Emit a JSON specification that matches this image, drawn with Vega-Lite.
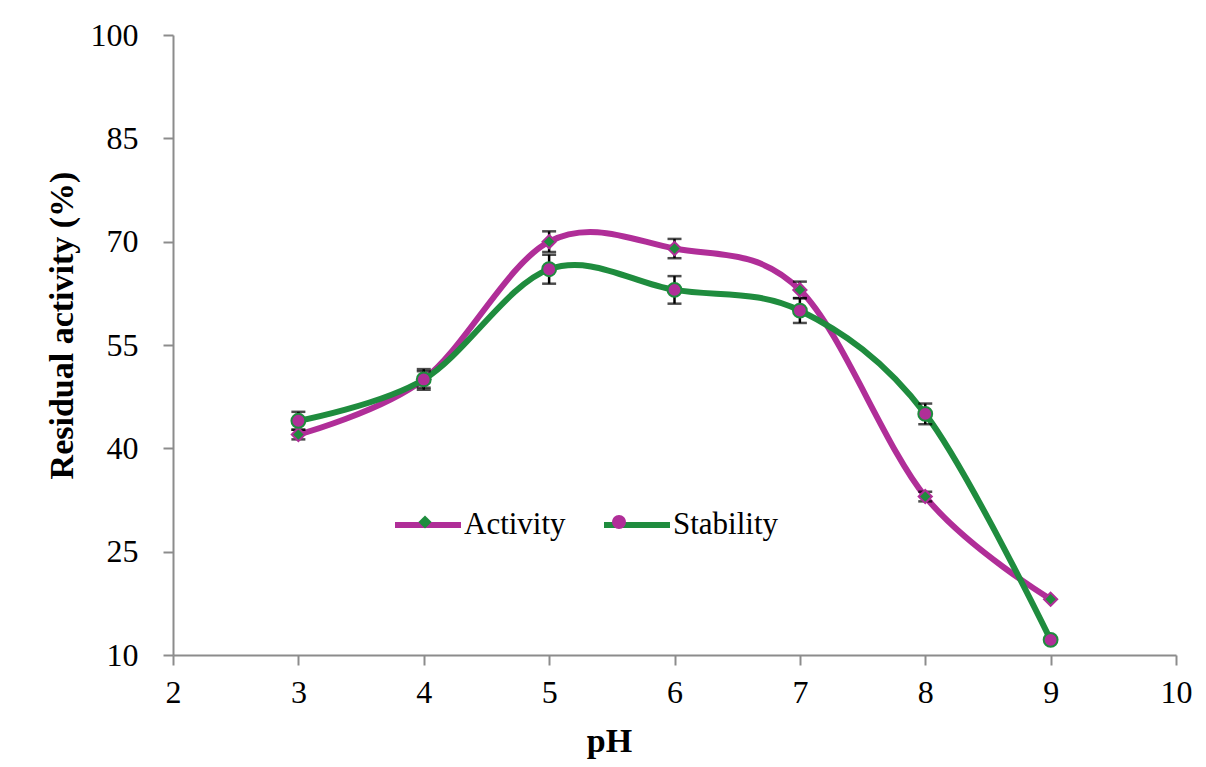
{
  "$schema": "https://vega.github.io/schema/vega-lite/v6.json",
  "width": 1003,
  "height": 620,
  "autosize": "none",
  "padding": {"left": 173, "top": 35, "right": 30, "bottom": 112},
  "background": "white",
  "config": {
    "view": {"stroke": null},
    "font": "Liberation Serif",
    "axis": {
      "domainColor": "#8c8c8c",
      "domainWidth": 2,
      "tickColor": "#8c8c8c",
      "tickWidth": 2,
      "tickSize": 10,
      "grid": false,
      "labelFlush": false,
      "labelFont": "Liberation Serif",
      "labelFontSize": 32,
      "labelColor": "black",
      "titleFont": "Liberation Serif",
      "titleFontWeight": "bold",
      "titleColor": "black"
    }
  },
  "data": {
    "values": [
      {"pH": 3, "series": "Activity", "value": 42, "err": 0.7},
      {"pH": 4, "series": "Activity", "value": 50, "err": 1.2},
      {"pH": 5, "series": "Activity", "value": 70, "err": 1.5},
      {"pH": 6, "series": "Activity", "value": 69, "err": 1.4},
      {"pH": 7, "series": "Activity", "value": 63, "err": 1.2},
      {"pH": 8, "series": "Activity", "value": 33, "err": 0.7},
      {"pH": 9, "series": "Activity", "value": 18.1, "err": 0},
      {"pH": 3, "series": "Stability", "value": 44, "err": 1.3},
      {"pH": 4, "series": "Stability", "value": 50, "err": 1.5},
      {"pH": 5, "series": "Stability", "value": 66, "err": 2.1},
      {"pH": 6, "series": "Stability", "value": 63, "err": 2},
      {"pH": 7, "series": "Stability", "value": 60, "err": 1.8},
      {"pH": 8, "series": "Stability", "value": 45, "err": 1.5},
      {"pH": 9, "series": "Stability", "value": 12.2, "err": 0}
    ]
  },
  "encoding": {
    "x": {
      "field": "pH",
      "type": "quantitative",
      "scale": {"domain": [2, 10], "nice": false, "zero": false},
      "axis": {
        "values": [2, 3, 4, 5, 6, 7, 8, 9, 10],
        "labelPadding": 12,
        "title": "pH",
        "titleFontSize": 34,
        "titleX": 436,
        "titlePadding": 16
      }
    },
    "y": {
      "field": "value",
      "type": "quantitative",
      "title": "Residual activity (%)",
      "scale": {"domain": [10, 100], "nice": false, "zero": false},
      "axis": {
        "values": [10, 25, 40, 55, 70, 85, 100],
        "labelPadding": 25,
        "title": "Residual activity (%)",
        "titleFontSize": 34,
        "titleX": -101,
        "titleY": 290,
        "titleBaseline": "alphabetic"
      }
    }
  },
  "layer": [
    {
      "mark": {"type": "line", "interpolate": "cardinal", "strokeWidth": 6, "strokeCap": "round"},
      "encoding": {
        "stroke": {
          "field": "series",
          "type": "nominal",
          "scale": {"domain": ["Activity", "Stability"], "range": ["#B02E98", "#1F8C3E"]},
          "legend": {
            "title": null,
            "orient": "none",
            "legendX": 219,
            "legendY": 454,
            "direction": "horizontal",
            "symbolType": "M-1,0H1",
            "symbolSize": 4356,
            "symbolStrokeWidth": 6,
            "labelFont": "Liberation Serif",
            "labelFontSize": 31,
            "labelColor": "black",
            "labelOffset": 0,
            "columnPadding": 26,
            "zindex": 1
          }
        }
      }
    },
    {
      "transform": [{"filter": "datum.err > 0"}],
      "mark": {
        "type": "errorbar",
        "color": "black",
        "ticks": {"size": 14, "thickness": 2.5, "color": "black"},
        "rule": {"strokeWidth": 2.5, "color": "black"}
      },
      "encoding": {
        "y": {"field": "value", "type": "quantitative", "title": "Residual activity (%)"},
        "yError": {"field": "err"}
      }
    },
    {
      "mark": {"type": "point", "filled": true, "size": 4356, "strokeWidth": 2, "opacity": 1},
      "encoding": {
        "stroke": {
          "field": "series",
          "type": "nominal",
          "scale": {"domain": ["Activity", "Stability"], "range": ["#B02E98", "#1F8C3E"]},
          "legend": {
            "title": null,
            "orient": "none",
            "legendX": 219,
            "legendY": 454,
            "direction": "horizontal",
            "symbolType": "M-1,0H1",
            "symbolSize": 4356,
            "symbolStrokeWidth": 6,
            "labelFont": "Liberation Serif",
            "labelFontSize": 31,
            "labelColor": "black",
            "labelOffset": 0,
            "columnPadding": 26,
            "zindex": 1
          }
        },
        "fill": {
          "field": "series",
          "type": "nominal",
          "scale": {"range": ["#1F8C3E", "#B02E98"]},
          "legend": {
            "title": null,
            "orient": "none",
            "legendX": 219,
            "legendY": 454,
            "direction": "horizontal",
            "symbolSize": 4356,
            "symbolStrokeWidth": 0,
            "labelFont": "Liberation Serif",
            "labelFontSize": 31,
            "labelOpacity": 0,
            "labelOffset": 0,
            "columnPadding": 26,
            "zindex": 2
          }
        },
        "shape": {
          "field": "series",
          "type": "nominal",
          "scale": {"range": ["M0,-0.2L0.2,0L0,0.2L-0.2,0Z", "M0.21,0A0.21,0.21,0,1,1,-0.21,0A0.21,0.21,0,1,1,0.21,0Z"]},
          "legend": {
            "title": null,
            "orient": "none",
            "legendX": 219,
            "legendY": 454,
            "direction": "horizontal",
            "symbolSize": 4356,
            "symbolStrokeWidth": 0,
            "labelFont": "Liberation Serif",
            "labelFontSize": 31,
            "labelOpacity": 0,
            "labelOffset": 0,
            "columnPadding": 26,
            "zindex": 2
          }
        }
      }
    }
  ]
}
